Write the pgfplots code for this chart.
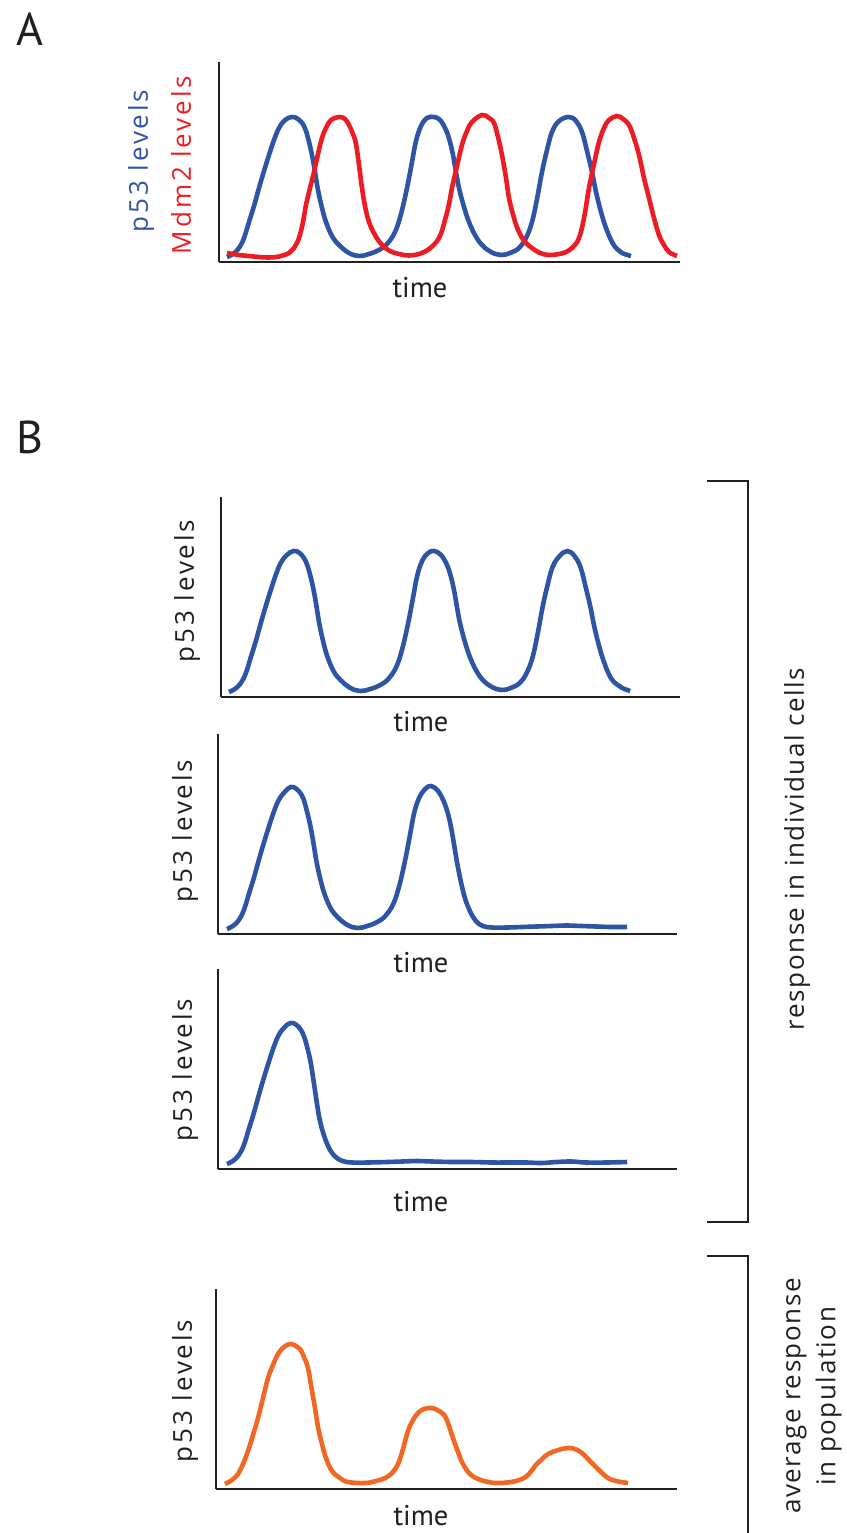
\documentclass[border=0pt]{standalone}
\usepackage{pgfplots}
\pgfplotsset{compat=1.18}
\usepackage{fontspec}
\setmainfont{PT Sans}
\newfontfamily\lsfont{Open Sans}[LetterSpace=11]
\newfontfamily\lsfontb{Open Sans}[LetterSpace=6]
\definecolor{pblue}{RGB}{46,84,165}
\definecolor{mred}{RGB}{237,28,36}
\definecolor{aorange}{RGB}{241,103,35}
\definecolor{axgray}{RGB}{35,31,32}
\pgfplotsset{
  cell/.style={scale only axis, anchor=south west, width=#1, height=200pt,
    xmin=0, xmax=461, ymin=0, ymax=200, axis lines=left,
    axis line style={-, line width=2.5pt, color=axgray}, ticks=none, clip=false},
  curve/.style={line width=4.6pt, smooth, tension=0.65, no marks, color=#1}
}
\newcommand{\lab}{\lsfont\fontsize{26}{30}\selectfont}
\newcommand{\labb}{\lsfontb\fontsize{26}{30}\selectfont}
\newcommand{\tim}{\fontsize{28.5}{30}\selectfont}
\begin{document}
\begin{tikzpicture}
\path[use as bounding box] (0,0) rectangle (846pt,-1533pt);
% Panel letters
\node[font=\fontsize{46}{50}\selectfont, text=axgray] at (30pt,-29pt) {A};
\node[font=\fontsize{46}{50}\selectfont, text=axgray] at (30pt,-437pt) {B};

% ---------- Panel A ----------
\begin{axis}[cell=461pt, at={(219pt,-262pt)}]
\addplot[curve=pblue] coordinates {
(8,5)(14,8)(20,14)(25,24)(30,40)(35,56)(40,74)(45,91)(50,107)(55,122)(60,134)(66,142)(73,145)(79,143)(85,136)(89,124)(93,107)(96,90)(99,72)(103,54)(107,40)(113,26)(120,17)(130,9)(140,6)(150,8)(160,12)(168,18)(176,30)(182,48)(188,74)(193,100)(197,121)(202,136)(208,144)(215,145)(221,142)(227,132)(231,120)(234,107)(237,90)(240,74)(245,55)(250,40)(256,27)(263,17)(272,10)(282,7)(291,9)(300,14)(307,24)(313,40)(318,63)(323,90)(328,112)(333,130)(340,141)(350,145)(357,141)(363,130)(368,111)(373,90)(377,70)(382,50)(387,34)(393,20)(398,13)(403,9)(412,6)
};
\addplot[curve=mred] coordinates {
(8,9)(20,7)(30,6)(40,5)(50,4.5)(60,5.5)(70,9)(75,14)(80,24)(84,40)(87,57)(91,74)(95,90)(99,108)(103,124)(107,134)(112,142)(120,145)(126,143)(130,137)(134,128)(137,118)(140,97)(143,74)(146,56)(150,40)(156,27)(163,17)(171,11)(180,8)(190,6.5)(200,8)(210,13)(220,24)(226,42)(230,58)(233,74)(238,96)(243,117)(248,131)(253,140)(263,147)(270,144)(275,139)(279,125)(283,107)(287,84)(290,64)(295,44)(300,30)(306,20)(313,14)(321,9)(330,7)(340,8)(347,10)(354,15)(360,24)(365,44)(370,74)(375,98)(380,120)(385,134)(390,142)(398,146)(404,143)(410,137)(415,124)(420,107)(425,84)(430,64)(435,44)(440,27)(445,17)(450,10)(458,6)
};
\end{axis}
\node[rotate=90, font=\lab, text=pblue] at (141pt,-161pt) {p53 levels};
\node[rotate=90, font=\lab, text=mred] at (181pt,-165pt) {Mdm2 levels};
\node[font=\tim, text=axgray] at (420pt,-288pt) {time};

% ---------- Panel B1 ----------
\begin{axis}[cell=459pt, at={(221pt,-697pt)}]
\addplot[curve=pblue] coordinates {
(8,5)(14,8)(20,14)(25,24)(30,40)(35,56)(40,74)(45,91)(50,107)(55,122)(60,134)(66,142)(73,146)(79,144)(85,136)(89,124)(93,107)(96,90)(99,72)(103,54)(107,40)(113,26)(120,17)(130,9)(140,6)(150,8)(160,12)(168,18)(176,30)(182,48)(188,74)(193,100)(197,121)(202,136)(208,144)(214,146)(221,142)(227,132)(231,120)(234,107)(237,90)(240,74)(245,55)(250,40)(256,27)(263,17)(272,10)(282,7)(291,9)(300,14)(307,24)(313,40)(318,63)(323,90)(328,112)(333,130)(340,141)(348,146)(355,141)(361,130)(366,111)(371,90)(375,70)(380,50)(385,34)(391,20)(397,13)(403,9)(411,6)
};
\end{axis}
\node[rotate=90, font=\lab, text=axgray] at (187pt,-591pt) {p53 levels};
\node[font=\tim, text=axgray] at (421pt,-722pt) {time};

% ---------- Panel B2 ----------
\begin{axis}[cell=459pt, at={(218pt,-934pt)}]
\addplot[curve=pblue] coordinates {
(9,5)(15,8)(21,14)(26,24)(31,40)(36,56)(41,74)(46,91)(51,107)(56,122)(61,134)(67,142)(73,147)(79,145)(85,137)(89,124)(93,107)(96,90)(99,72)(103,54)(107,40)(113,26)(120,17)(130,9)(140,6)(150,8)(160,12)(168,18)(176,30)(182,48)(188,74)(193,100)(197,121)(202,136)(208,145)(214,148)(221,143)(227,132)(231,120)(234,107)(237,90)(240,72)(244,52)(248,36)(253,23)(259,13)(266,8)(275,6.5)(290,6.5)(305,7)(320,7.5)(335,8)(350,8.5)(365,8)(380,7.5)(395,7)(411,7)
};
\end{axis}
\node[rotate=90, font=\lab, text=axgray] at (185pt,-831pt) {p53 levels};
\node[font=\tim, text=axgray] at (421pt,-963pt) {time};

% ---------- Panel B3 ----------
\begin{axis}[cell=459pt, at={(218pt,-1169pt)}]
\addplot[curve=pblue] coordinates {
(9,5)(15,8)(21,14)(26,24)(31,40)(36,56)(41,74)(46,91)(51,107)(56,122)(61,134)(67,142)(73,146)(79,144)(85,136)(89,124)(93,107)(96,88)(99,68)(102,50)(106,35)(111,22)(117,13)(125,8)(135,6.5)(150,6.5)(170,7)(185,7.5)(200,8)(215,7.5)(235,7)(255,7)(275,6.5)(295,6.5)(310,6.5)(325,6)(340,7)(355,7.5)(370,6.5)(390,6.5)(411,7)
};
\end{axis}
\node[rotate=90, font=\lab, text=axgray] at (185pt,-1070pt) {p53 levels};
\node[font=\tim, text=axgray] at (421pt,-1202pt) {time};

% ---------- Panel B4 ----------
\begin{axis}[cell=461pt, at={(216pt,-1489pt)}]
\addplot[curve=aorange] coordinates {
(9,5)(16,9)(22,15)(27,25)(32,38)(37,54)(42,71)(47,91)(52,111)(57,124)(62,135)(68,142)(74,145)(80,143)(84,140)(88,132)(92,121)(95,104)(99,81)(102,62)(106,45)(110,31)(116,18)(124,11)(132,7)(149,6)(160,8)(169,11)(176,16)(182,25)(187,40)(192,58)(197,69)(202,76)(208,80)(216,81)(223,78)(229,73)(233,63)(237,51)(242,37)(247,25)(254,15)(262,10)(272,7)(282,6)(295,7)(306,10)(313,15)(319,23)(325,29)(332,35)(342,39)(352,41)(359,40)(366,36)(372,30)(379,23)(385,17)(392,11)(400,8)(412,6)
};
\end{axis}
\node[rotate=90, font=\lab, text=axgray] at (185pt,-1391pt) {p53 levels};
\node[font=\tim, text=axgray] at (421pt,-1516pt) {time};

% ---------- Brackets ----------
\draw[line width=2.5pt, color=axgray, line join=miter] (707pt,-481pt) -- (748pt,-481pt) -- (748pt,-1222pt) -- (707pt,-1222pt);
\draw[line width=2.5pt, color=axgray, line join=miter] (707pt,-1256pt) -- (748pt,-1256pt) -- (748pt,-1540pt);
\node[rotate=90, font=\labb, text=axgray] at (797pt,-849pt) {response in individual cells};
\node[rotate=90, font=\labb, text=axgray, align=center, execute at begin node={\baselineskip=35pt}] at (814pt,-1396pt) {average response\\in population};
\end{tikzpicture}
\end{document}
